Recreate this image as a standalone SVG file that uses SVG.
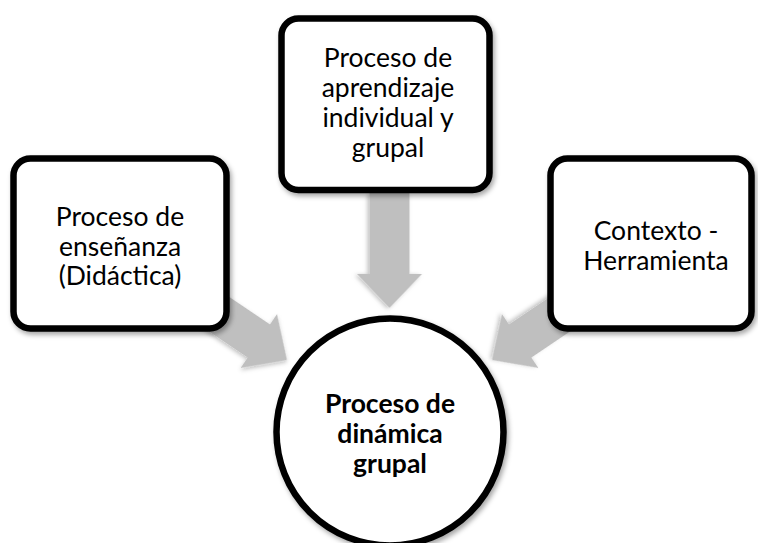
<svg xmlns="http://www.w3.org/2000/svg" width="758" height="543" viewBox="0 0 758 543">
  <defs>
    <filter id="sh" x="-20%" y="-20%" width="140%" height="140%">
      <feDropShadow dx="2" dy="3" stdDeviation="2.5" flood-color="#000" flood-opacity="0.35"/>
    </filter>
    <filter id="ash" x="-20%" y="-20%" width="140%" height="140%">
      <feDropShadow dx="1" dy="2" stdDeviation="2" flood-color="#000" flood-opacity="0.25"/>
    </filter>
    <polygon id="arrow" points="-115,-20 -34,-20 -34,-32.5 0,0 -34,32.5 -34,20 -115,20"/>
  </defs>
  <style>
    .box { fill: #ffffff; stroke: #000000; stroke-width: 6.5; filter: url(#sh); }
    .arr { fill: #bfbfbf; filter: url(#ash); }
    .t { font-family: Lato, "Open Sans", "Liberation Sans", sans-serif; font-size: 26.5px; fill: #000000; text-anchor: middle; }
    .b { font-weight: bold; font-size: 26.5px; }
  </style>
  <rect width="758" height="543" fill="#ffffff"/>
  <g id="connectors">
    <use href="#arrow" class="arr" transform="translate(389.5,308) rotate(90)"/>
    <use href="#arrow" class="arr" transform="translate(287,360) rotate(34)"/>
    <use href="#arrow" class="arr" transform="translate(492,360) rotate(146)"/>
  </g>
  <g id="node-aprendizaje">
    <rect class="box" x="281.5" y="18.5" width="208" height="171.5" rx="17"/>
    <text class="t" x="388" y="67">Proceso de</text>
    <text class="t" x="388" y="97">aprendizaje</text>
    <text class="t" x="388" y="127">individual y</text>
    <text class="t" x="388" y="157">grupal</text>
  </g>
  <g id="node-ensenanza">
    <rect class="box" x="13.5" y="158.5" width="213" height="170" rx="17"/>
    <text class="t" x="120" y="226">Proceso de</text>
    <text class="t" x="120" y="255.5">enseñanza</text>
    <text class="t" x="120" y="285">(Didáctica)</text>
  </g>
  <g id="node-contexto">
    <rect class="box" x="550.5" y="158.5" width="201" height="170" rx="17"/>
    <text class="t" x="656" y="240">Contexto -</text>
    <text class="t" x="656" y="270">Herramienta</text>
  </g>
  <g id="node-dinamica">
    <circle class="box" cx="390" cy="432" r="113.5"/>
    <text class="t b" x="390" y="412.5">Proceso de</text>
    <text class="t b" x="390" y="442.5">dinámica</text>
    <text class="t b" x="390" y="472.5">grupal</text>
  </g>
</svg>
